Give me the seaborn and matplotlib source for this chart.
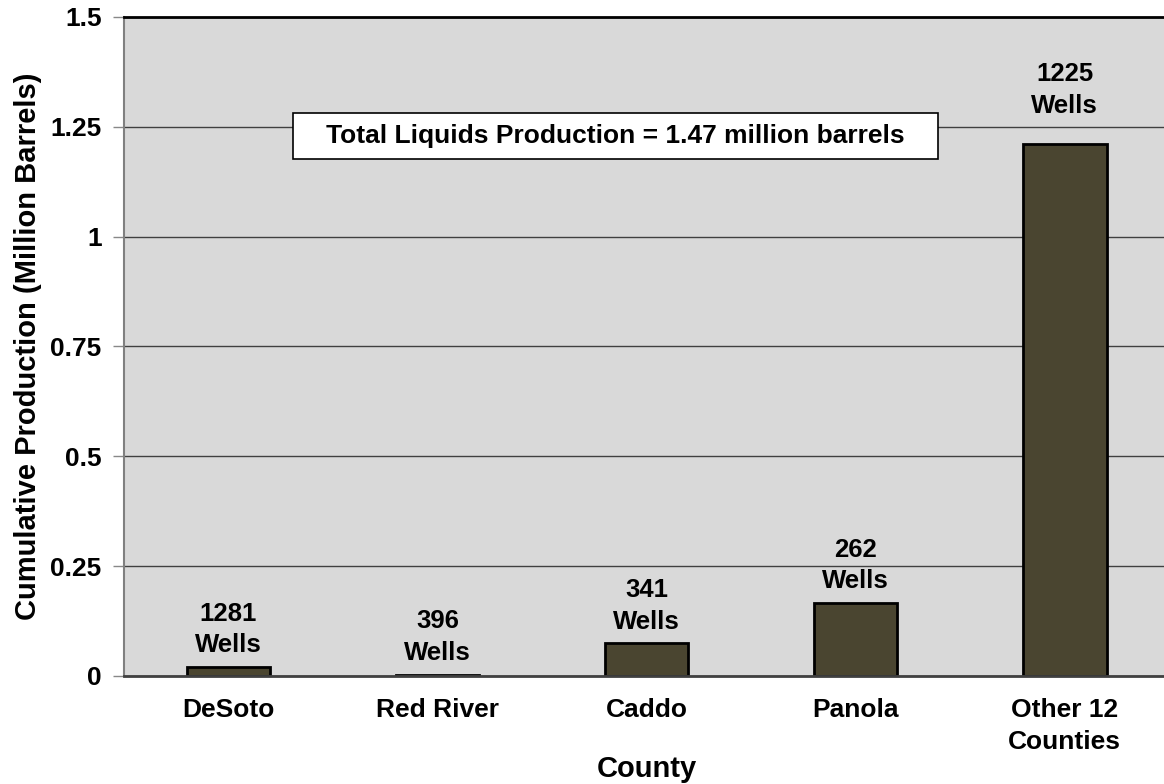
import matplotlib
matplotlib.use("Agg")
import matplotlib.pyplot as plt
from matplotlib.ticker import FixedLocator
import seaborn as sns
import pandas as pd

# County-level cumulative liquids production
counties = ["DeSoto", "Red River", "Caddo", "Panola", "Other 12\nCounties"]
production = [0.020, 0.003, 0.074, 0.166, 1.211]
well_counts = [1281, 396, 341, 262, 1225]
y_ticks = [0, 0.25, 0.5, 0.75, 1, 1.25, 1.5]
y_tick_labels = ["0", "0.25", "0.5", "0.75", "1", "1.25", "1.5"]
total_label = "Total Liquids Production = 1.47 million barrels"

df = pd.DataFrame({"County": counties, "Production": production})

sns.set_theme(style="white")
plt.rcParams["font.family"] = ["Liberation Sans", "DejaVu Sans"]
plt.rcParams["font.weight"] = "bold"
plt.rcParams["text.color"] = "black"
plt.rcParams["axes.labelcolor"] = "black"

fig = plt.figure(figsize=(11.64, 7.84), dpi=100)
ax = fig.add_axes([0.1065, 0.1378, 0.898, 0.8406])
ax.set_facecolor("#d9d9d9")

sns.barplot(data=df, x="County", y="Production", ax=ax, width=0.4,
            color="#4a4530", edgecolor="black", linewidth=2, saturation=1)

ax.set_ylim(0, 1.5)
ax.set_xlim(-0.5, len(counties) - 0.5)
ax.set_yticks(y_ticks)
ax.set_yticklabels(y_tick_labels, fontsize=19, fontweight="bold")
ax.grid(axis="y", color="#404040", linewidth=1)
ax.set_axisbelow(True)

# Category labels centred under bars, tick marks at category boundaries
ax.set_xticks(range(len(counties)))
ax.set_xticklabels(counties, fontsize=19, fontweight="bold", linespacing=1.4)
ax.tick_params(axis="x", which="major", length=0, pad=16, labelcolor="black")
ax.xaxis.set_minor_locator(FixedLocator([i - 0.5 for i in range(len(counties) + 1)]))
ax.tick_params(axis="x", which="minor", length=8, color="#888888", width=1)
ax.tick_params(axis="y", which="major", length=8, color="#888888", width=1,
               left=True, pad=8, labelcolor="black")

ax.set_xlabel("County", fontsize=21, fontweight="bold", labelpad=1)
ax.set_ylabel("Cumulative Production (Million Barrels)", fontsize=21,
              fontweight="bold", labelpad=6)

ax.spines["top"].set_visible(True)
ax.spines["top"].set_color("black")
ax.spines["top"].set_linewidth(2)
ax.spines["left"].set_color("#808080")
ax.spines["left"].set_linewidth(1.5)
ax.spines["bottom"].set_color("#404040")
ax.spines["bottom"].set_linewidth(2)
ax.spines["right"].set_visible(False)

# Well counts above each bar
for i, (val, n) in enumerate(zip(production, well_counts)):
    extra = 12 if i == len(counties) - 1 else 0
    ax.annotate(f"{n}\nWells", xy=(i, val), xytext=(0, 7 + extra),
                textcoords="offset points", ha="center", va="bottom",
                fontsize=18.5, fontweight="bold", linespacing=1.4)

ax.text(1.85, 1.229, "   " + total_label + "   ", ha="center", va="center",
        fontsize=19, fontweight="bold",
        bbox=dict(boxstyle="square,pad=0.42", facecolor="white",
                  edgecolor="black", linewidth=1.2))

fig.savefig("out.png", dpi=100)
